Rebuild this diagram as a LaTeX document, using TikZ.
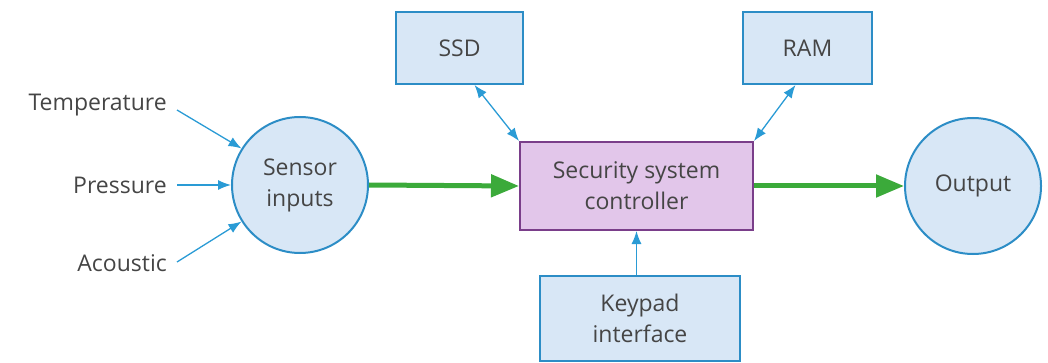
\documentclass[tikz,border=0pt]{standalone}
\usepackage{fontspec}
\setmainfont{Open Sans}
\usetikzlibrary{arrows.meta}
\definecolor{boxfill}{HTML}{D8E7F6}
\definecolor{boxline}{HTML}{2C8DC6}
\definecolor{ctlfill}{HTML}{E2C6EA}
\definecolor{ctlline}{HTML}{7A3E8A}
\definecolor{grn}{HTML}{3BAA3A}
\definecolor{arr}{HTML}{2A9BD5}
\definecolor{txt}{HTML}{454545}
\begin{document}
\begin{tikzpicture}[x=1pt,y=-1pt,
  every node/.style={font=\fontsize{23}{31}\selectfont, text=txt, align=center},
  bluebox/.style={draw=boxline, line width=2pt, fill=boxfill, inner sep=0pt},
  ctlbox/.style={draw=ctlline, line width=2pt, fill=ctlfill, inner sep=0pt},
  circ/.style={draw=boxline, line width=2pt, fill=boxfill, circle, minimum size=136pt, inner sep=0pt},
  lbl/.style={anchor=east, inner sep=0pt},
  thin/.style={draw=arr, line width=1.3pt, -{Latex[length=13pt,width=10pt]}},
  dbl/.style={draw=arr, line width=1.3pt, {Latex[length=13pt,width=10pt]}-{Latex[length=13pt,width=10pt]}},
  fat/.style={draw=grn, line width=5pt, -{Triangle[length=28pt,width=22pt]}}]
\useasboundingbox (0,0) rectangle (1048,363);
\node[circ] (sensor) at (300,185) {Sensor\\inputs};
\node[circ] (output) at (973,186) {Output};
\node[ctlbox, minimum width=233pt, minimum height=88pt] (ctl) at (636.5,186) {Security system\\controller};
\node[bluebox, minimum width=127pt, minimum height=72pt] (ssd) at (459.5,48) {SSD};
\node[bluebox, minimum width=129pt, minimum height=72pt] (ram) at (807.5,48) {RAM};
\node[bluebox, minimum width=200pt, minimum height=85pt] (key) at (640,318.5) {Keypad\\interface};
\node[lbl] (temp) at (167,105) {Temperature};
\node[lbl] (pres) at (167,185) {Pressure};
\node[lbl] (acou) at (167,263) {Acoustic};
\coordinate (tS) at (177,110);
\coordinate (pS) at (177,185);
\coordinate (aS) at (177,262);
\draw[thin] (tS) -- (sensor.148);
\draw[thin] (pS) -- (sensor.west);
\draw[thin] (aS) -- (sensor.212);
\draw[fat] (sensor.east) -- (ctl.west);
\draw[fat] (ctl.east) -- (output.west);
\draw[dbl] ([xshift=15pt]ssd.south) -- (ctl.north west);
\draw[dbl] ([xshift=-12pt]ram.south) -- (ctl.north east);
\draw[thin] (ctl.south |- key.north) -- (ctl.south);
\end{tikzpicture}
\end{document}
